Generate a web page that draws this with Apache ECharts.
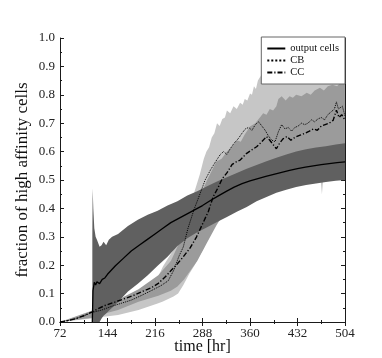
<!DOCTYPE html>
<html>
<head>
<meta charset="utf-8">
<script src="https://cdn.jsdelivr.net/npm/echarts@6/dist/echarts.min.js"></script>
<style>
  html, body { margin: 0; padding: 0; background: #fff; }
  #chart { width: 382px; height: 358px; }
</style>
</head>
<body>
<div id="chart"></div>
<script>
// tick labels
const xTicks = [72, 144, 216, 288, 360, 432, 504];
const yTicks = [0, 0.1, 0.2, 0.3, 0.4, 0.5, 0.6, 0.7, 0.8, 0.9, 1.0];

// output cells: mean line and band
const outT = [121, 122, 124, 126, 128, 132, 136, 140, 144, 150, 156, 168, 180, 192, 204, 216, 228, 240, 252, 264, 276, 288, 300, 312, 324, 336, 348, 360, 372, 384, 396, 408, 420, 432, 444, 456, 468, 480, 492, 504];
const outV = [0, 0.11, 0.14, 0.13, 0.142, 0.135, 0.15, 0.155, 0.168, 0.183, 0.198, 0.224, 0.25, 0.27, 0.29, 0.31, 0.33, 0.35, 0.365, 0.38, 0.395, 0.41, 0.428, 0.444, 0.46, 0.475, 0.487, 0.497, 0.505, 0.513, 0.52, 0.527, 0.534, 0.54, 0.545, 0.55, 0.554, 0.558, 0.561, 0.564];
const outBandT = [121, 121.5, 122.5, 124, 126, 128, 132, 135, 138, 142, 146, 151, 160, 175, 190, 205, 220, 235, 250, 265, 280, 295, 310, 325, 340, 355, 370, 385, 400, 415, 430, 445, 460, 475, 490, 504];
const outHi = [0.30, 0.47, 0.40, 0.33, 0.30, 0.29, 0.265, 0.27, 0.283, 0.27, 0.29, 0.30, 0.31, 0.338, 0.36, 0.378, 0.392, 0.41, 0.425, 0.445, 0.46, 0.478, 0.495, 0.51, 0.525, 0.54, 0.553, 0.566, 0.578, 0.59, 0.60, 0.608, 0.614, 0.619, 0.625, 0.629];
const outLo = [0, 0, 0, 0, 0, 0, 0, 0.012, 0.022, 0.03, 0.04, 0.05, 0.07, 0.107, 0.135, 0.165, 0.198, 0.23, 0.268, 0.295, 0.316, 0.334, 0.352, 0.37, 0.388, 0.405, 0.425, 0.44, 0.455, 0.466, 0.475, 0.482, 0.488, 0.493, 0.497, 0.50];

// CB: mean line and band
const cbT = [72, 84, 96, 108, 120, 135, 150, 165, 180, 195, 210, 225, 236, 245, 252, 259, 266, 275, 284, 292, 300, 308, 315, 320, 325, 330, 336, 342, 348, 353, 358, 363, 368, 373, 378, 383, 388, 393, 398, 403, 408, 413, 418, 423, 428, 433, 438, 443, 448, 453, 458, 463, 468, 473, 478, 483, 488, 491, 494, 497, 500, 504];
const cbV = [0, 0.005, 0.012, 0.022, 0.033, 0.042, 0.055, 0.066, 0.077, 0.093, 0.11, 0.128, 0.145, 0.185, 0.23, 0.265, 0.33, 0.395, 0.45, 0.50, 0.535, 0.565, 0.59, 0.60, 0.59, 0.61, 0.63, 0.645, 0.665, 0.68, 0.685, 0.675, 0.695, 0.705, 0.69, 0.675, 0.655, 0.64, 0.635, 0.67, 0.695, 0.68, 0.685, 0.672, 0.685, 0.69, 0.70, 0.695, 0.70, 0.712, 0.705, 0.715, 0.72, 0.712, 0.73, 0.74, 0.75, 0.775, 0.75, 0.745, 0.76, 0.725];
const cbBandT = [72, 120, 135, 160, 191, 221, 228, 244, 251, 259, 268, 276, 284, 290, 294, 298, 302, 306, 310, 314, 318, 322, 325, 330, 335, 340, 345, 349, 352, 356, 360, 363, 366, 369, 372, 380, 388, 396, 410, 430, 460, 466, 469, 472, 504];
const cbHi = [0, 0.03, 0.045, 0.07, 0.11, 0.16, 0.195, 0.254, 0.28, 0.31, 0.38, 0.46, 0.52, 0.575, 0.60, 0.615, 0.65, 0.665, 0.70, 0.69, 0.715, 0.72, 0.745, 0.735, 0.76, 0.75, 0.772, 0.765, 0.785, 0.78, 0.805, 0.80, 0.83, 0.82, 0.85, 0.88, 0.92, 0.94, 0.95, 0.94, 0.96, 0.96, 0.96, 0.96, 0.97];
const cbLo = [0, 0.012, 0.018, 0.025, 0.042, 0.066, 0.072, 0.09, 0.10, 0.13, 0.17, 0.20, 0.235, 0.26, 0.28, 0.30, 0.32, 0.34, 0.36, 0.38, 0.40, 0.41, 0.42, 0.43, 0.44, 0.445, 0.45, 0.455, 0.46, 0.465, 0.47, 0.475, 0.48, 0.485, 0.49, 0.50, 0.505, 0.51, 0.515, 0.52, 0.53, 0.53, 0.45, 0.53, 0.55];

// CC: mean line and band
const ccT = [72, 84, 96, 108, 120, 130, 140, 155, 171, 185, 196, 210, 221, 232, 241, 250, 259, 269, 279, 289, 297, 304, 312, 318, 325, 333, 340, 345, 350, 355, 362, 370, 378, 385, 390, 395, 400, 405, 410, 416, 422, 428, 436, 444, 450, 456, 462, 468, 474, 480, 486, 491, 495, 499, 504];
const ccV = [0, 0.005, 0.012, 0.022, 0.035, 0.047, 0.058, 0.07, 0.083, 0.095, 0.107, 0.12, 0.136, 0.16, 0.183, 0.205, 0.23, 0.26, 0.30, 0.35, 0.39, 0.44, 0.475, 0.505, 0.525, 0.555, 0.565, 0.57, 0.582, 0.594, 0.605, 0.617, 0.635, 0.653, 0.64, 0.625, 0.61, 0.63, 0.645, 0.653, 0.64, 0.65, 0.658, 0.665, 0.672, 0.68, 0.675, 0.69, 0.695, 0.70, 0.71, 0.746, 0.72, 0.73, 0.711];
const ccBandT = [72, 120, 140, 160, 191, 221, 240, 250, 260, 280, 295, 309, 317, 325, 332, 340, 346, 352, 360, 368, 375, 380, 385, 390, 395, 400, 403, 408, 414, 420, 425, 430, 438, 446, 452, 458, 466, 472, 478, 485, 492, 498, 504];
const ccHi = [0, 0.04, 0.06, 0.078, 0.115, 0.165, 0.215, 0.265, 0.31, 0.42, 0.50, 0.565, 0.575, 0.60, 0.615, 0.64, 0.635, 0.66, 0.688, 0.70, 0.72, 0.735, 0.73, 0.75, 0.745, 0.76, 0.785, 0.795, 0.78, 0.795, 0.79, 0.80, 0.795, 0.807, 0.80, 0.815, 0.825, 0.815, 0.83, 0.835, 0.83, 0.845, 0.85];
const ccLo = [0, 0.015, 0.03, 0.042, 0.071, 0.092, 0.11, 0.125, 0.15, 0.215, 0.28, 0.34, 0.37, 0.40, 0.415, 0.43, 0.44, 0.45, 0.46, 0.47, 0.48, 0.485, 0.49, 0.495, 0.50, 0.50, 0.505, 0.505, 0.51, 0.515, 0.515, 0.52, 0.52, 0.525, 0.525, 0.53, 0.535, 0.535, 0.54, 0.54, 0.545, 0.545, 0.545];

const serif = 'Liberation Serif';
const frame = '#1a1a1a';

function pairs(t, v) {
  return t.map((x, i) => [x, v[i]]);
}

function bandSeries(name, t, lo, hi, color, z) {
  return {
    name: name,
    type: 'custom',
    z: z,
    silent: true,
    data: t.map((x, i) => [x, lo[i], hi[i]]),
    encode: { x: 0, y: [1, 2] },
    renderItem: function (params, api) {
      if (params.dataIndex !== 0) return null;
      const pts = [];
      for (let i = 0; i < t.length; i++) pts.push(api.coord([t[i], hi[i]]));
      for (let i = t.length - 1; i >= 0; i--) pts.push(api.coord([t[i], lo[i]]));
      return { type: 'polygon', shape: { points: pts }, style: { fill: color } };
    }
  };
}

function lineSeries(name, t, v, type, width) {
  return {
    name: name,
    type: 'line',
    z: 5,
    data: pairs(t, v),
    symbol: 'none',
    showSymbol: false,
    lineStyle: { color: '#000', width: width, type: type },
    itemStyle: { color: '#000' },
    animation: false
  };
}

const tickStyle = {
  axisLine: { show: true, lineStyle: { color: frame, width: 1 } },
  axisTick: { show: true, inside: true, length: 4, lineStyle: { color: frame } },
  minorTick: { show: true, splitNumber: 2, length: 2, lineStyle: { color: frame } },
  splitLine: { show: false }
};

const option = {
  animation: false,
  backgroundColor: '#fff',
  grid: { left: 60, right: 37, top: 38, bottom: 36, outerBoundsMode: 'none', containLabel: false },
  xAxis: [
    Object.assign({
      type: 'value', position: 'bottom', min: xTicks[0], max: xTicks[xTicks.length - 1], interval: 72,
      name: 'time [hr]', nameLocation: 'middle', nameGap: 17, nameMoveOverlap: false,
      nameTextStyle: { fontFamily: serif, fontSize: 16, color: '#111' },
      axisLabel: { fontFamily: serif, fontSize: 13, color: '#222', margin: 5, showMinLabel: true, showMaxLabel: true }
    }, tickStyle),
    Object.assign({
      type: 'value', position: 'top', min: xTicks[0], max: xTicks[xTicks.length - 1], interval: 72,
      axisLabel: { show: false }
    }, tickStyle)
  ],
  yAxis: [
    Object.assign({
      type: 'value', position: 'left', min: yTicks[0], max: yTicks[yTicks.length - 1], interval: 0.1,
      name: 'fraction of high affinity cells', nameLocation: 'middle', nameGap: 29, nameMoveOverlap: false,
      nameTextStyle: { fontFamily: serif, fontSize: 17, color: '#111' },
      axisLabel: { fontFamily: serif, fontSize: 13, color: '#222', margin: 5, formatter: v => v.toFixed(1) }
    }, tickStyle),
    Object.assign({
      type: 'value', position: 'right', min: yTicks[0], max: yTicks[yTicks.length - 1], interval: 0.1,
      axisLabel: { show: false }
    }, tickStyle)
  ],
  legend: {
    data: ['output cells', 'CB', 'CC'],
    orient: 'vertical',
    right: 37, top: 37,
    padding: [6, 6, 6, 5],
    itemGap: 1,
    itemWidth: 18, itemHeight: 11,
    itemStyle: { opacity: 0 },
    backgroundColor: '#fff',
    borderColor: '#666', borderWidth: 1, borderRadius: 0,
    textStyle: { fontFamily: serif, fontSize: 10.5, color: '#111' },
    selectedMode: false
  },
  series: [
    bandSeries('CB band', cbBandT, cbLo, cbHi, '#c6c6c6', 1),
    bandSeries('CC band', ccBandT, ccLo, ccHi, '#9b9b9b', 2),
    bandSeries('out band', outBandT, outLo, outHi, '#606060', 3),
    lineSeries('CB', cbT, cbV, 'dotted', 1),
    lineSeries('CC', ccT, ccV, [5, 2, 1.2, 2], 1.4),
    lineSeries('output cells', outT, outV, 'solid', 1.3)
  ]
};

const chart = echarts.init(document.getElementById('chart'));
chart.setOption(option);
</script>
</body>
</html>
